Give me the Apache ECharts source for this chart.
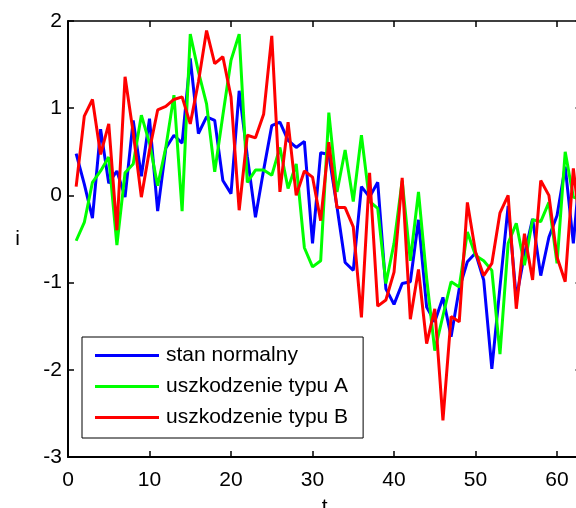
<!DOCTYPE html>
<html>
<head>
<meta charset="utf-8">
<script src="https://cdn.jsdelivr.net/npm/echarts@6/dist/echarts.min.js"></script>
<style>
html,body{margin:0;padding:0;background:#fff;}
#c{width:576px;height:508px;}
</style>
</head>
<body>
<div id="c"></div>
<script>
var seriesNames = ['stan normalny', 'uszkodzenie typu A', 'uszkodzenie typu B'];
var seriesColors = ['#0000ff', '#00ff00', '#ff0000'];
var xTicks = [0, 10, 20, 30, 40, 50, 60];
var yTicks = [-3, -2, -1, 0, 1, 2];

var normal = [0.48, 0.13, -0.26, 0.76, 0.14, 0.28, -0.02, 0.86, 0.22, 0.88,
  -0.18, 0.54, 0.69, 0.60, 1.57, 0.71, 0.90, 0.86, 0.17, 0.02,
  1.20, 0.45, -0.25, 0.29, 0.80, 0.84, 0.63, 0.55, 0.62, -0.55,
  0.49, 0.47, -0.13, -0.77, -0.86, 0.10, -0.02, 0.15, -1.07, -1.25,
  -1.01, -0.99, -0.28, -1.28, -1.45, -1.17, -1.62, -1.07, -0.76, -0.66,
  -0.97, -1.99, -1.05, -0.12, -1.18, -0.68, -0.27, -0.92, -0.48, -0.23,
  0.33, -0.55, 0.50];

var typeA = [-0.52, -0.31, 0.15, 0.28, 0.44, -0.57, 0.26, 0.36, 0.92, 0.60,
  0.11, 0.55, 1.15, -0.18, 1.85, 1.42, 1.05, 0.27, 0.92, 1.55,
  1.85, 0.15, 0.29, 0.29, 0.23, 0.55, 0.08, 0.36, -0.60, -0.82,
  -0.75, 0.95, 0.04, 0.52, -0.07, 0.69, -0.07, -0.15, -1.01, -0.55,
  0.17, -0.75, 0.04, -0.95, -1.78, -1.38, -0.99, -1.05, -0.42, -0.69,
  -0.75, -0.86, -1.82, -0.55, -0.32, -0.80, -0.28, -0.30, -0.08, -0.78,
  0.50, -0.02, -0.05];

var typeB = [0.10, 0.91, 1.10, 0.47, 0.82, -0.40, 1.36, 0.72, -0.02, 0.52,
  0.98, 1.02, 1.10, 1.13, 0.82, 1.30, 1.89, 1.51, 1.59, 1.13,
  -0.17, 0.69, 0.66, 0.93, 1.83, 0.04, 0.84, 0.00, 0.28, 0.21,
  -0.29, 0.61, -0.14, -0.14, -0.36, -1.40, 0.26, -1.27, -1.20, -0.88,
  0.20, -1.42, -0.85, -1.70, -1.30, -2.58, -1.39, -1.45, -0.08, -0.65,
  -0.92, -0.78, -0.20, 0.00, -1.30, -0.44, -0.97, 0.17, 0.00, -0.71,
  -0.99, 0.31, -0.50];

var allValues = [normal, typeA, typeB];

function pairs(vals) {
  return vals.map(function (v, i) { return [i + 1, v]; });
}

var FONT = '"Liberation Sans", Arial, sans-serif';
var chart = echarts.init(document.getElementById('c'), null, {renderer: 'canvas'});

var xMin = xTicks[0], xMax = 63, yMin = yTicks[0], yMax = yTicks[yTicks.length - 1];

var option = {
  backgroundColor: '#ffffff',
  animation: false,
  textStyle: {fontFamily: FONT},
  grid: {left: 68, top: 21, width: 513.5, height: 436, outerBoundsMode: 'none', containLabel: false},
  legend: {
    show: true,
    orient: 'vertical',
    left: 82,
    top: 337,
    data: seriesNames,
    icon: 'rect',
    itemWidth: 64,
    itemHeight: 3,
    itemGap: 10,
    selectedMode: false,
    backgroundColor: '#ffffff',
    borderColor: '#000000',
    borderWidth: 1,
    borderRadius: 0,
    padding: [8, 15, 10, 13],
    textStyle: {fontFamily: FONT, fontSize: 21, color: '#000', lineHeight: 20, padding: [0, 0, 0, 2]}
  },
  xAxis: [{
    type: 'value', position: 'bottom', min: xMin, max: xMax, interval: 10,
    name: 't', nameLocation: 'middle', nameGap: 40,
    nameTextStyle: {fontFamily: FONT, fontSize: 21, color: '#000'},
    axisLine: {show: true, onZero: false, lineStyle: {color: '#000', width: 2}},
    axisTick: {show: true, inside: true, length: 6, lineStyle: {color: '#000', width: 1.5}},
    axisLabel: {show: true, margin: 13, fontFamily: FONT, fontSize: 21, color: '#000', showMaxLabel: false},
    splitLine: {show: false}
  }, {
    type: 'value', position: 'top', min: xMin, max: xMax, interval: 10,
    axisLine: {show: true, onZero: false, lineStyle: {color: '#000', width: 1.5}},
    axisTick: {show: true, inside: true, length: 6, lineStyle: {color: '#000', width: 1.5}},
    axisLabel: {show: false},
    splitLine: {show: false}
  }],
  yAxis: [{
    type: 'value', position: 'left', min: yMin, max: yMax, interval: 1,
    name: 'i', nameLocation: 'middle', nameGap: 48, nameRotate: 0,
    nameTextStyle: {fontFamily: FONT, fontSize: 21, color: '#000'},
    axisLine: {show: true, onZero: false, lineStyle: {color: '#000', width: 2}},
    axisTick: {show: true, inside: true, length: 6, lineStyle: {color: '#000', width: 1.5}},
    axisLabel: {show: true, margin: 6, fontFamily: FONT, fontSize: 21, color: '#000'},
    splitLine: {show: false}
  }, {
    type: 'value', position: 'right', min: yMin, max: yMax, interval: 1,
    axisLine: {show: true, onZero: false, lineStyle: {color: '#000', width: 1.5}},
    axisTick: {show: true, inside: true, length: 6, lineStyle: {color: '#000', width: 1.5}},
    axisLabel: {show: false},
    splitLine: {show: false}
  }],
  series: seriesNames.map(function (name, k) {
    return {
      name: name,
      type: 'line',
      xAxisIndex: 0,
      yAxisIndex: 0,
      data: pairs(allValues[k]),
      showSymbol: false,
      symbol: 'none',
      clip: true,
      lineStyle: {color: seriesColors[k], width: 3},
      itemStyle: {color: seriesColors[k]},
      emphasis: {disabled: true},
      z: 2 + k
    };
  })
};
chart.setOption(option);
</script>
</body>
</html>
